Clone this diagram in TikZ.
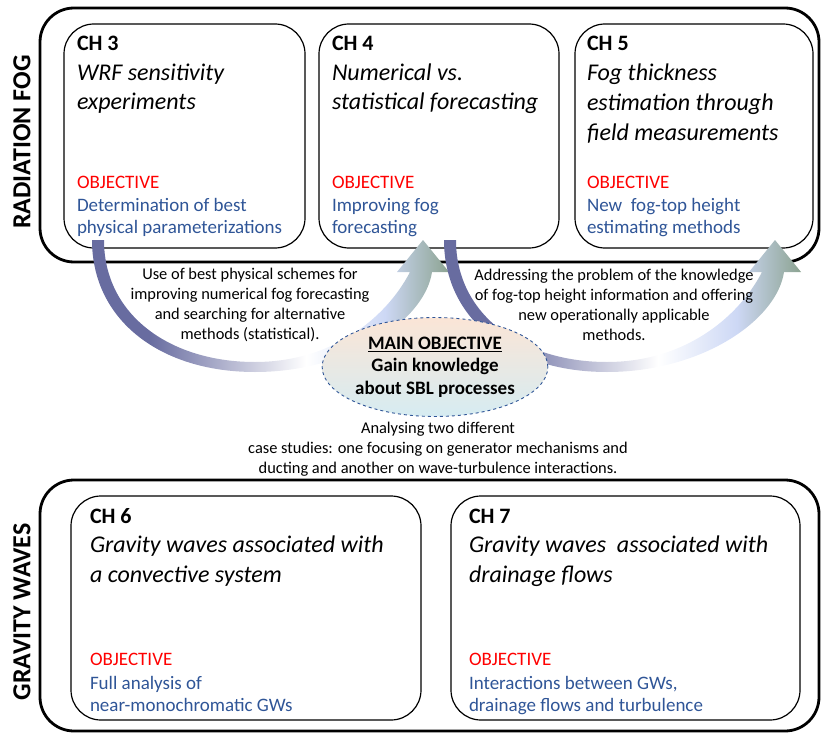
\documentclass[tikz,border=0pt]{standalone}
\usepackage{fontspec}
\setmainfont{Carlito}
\usetikzlibrary{shapes.geometric}

\definecolor{objblue}{RGB}{47,85,151}
\definecolor{arrowdark}{RGB}{104,108,160}
\definecolor{arrowlight}{RGB}{205,216,245}
\definecolor{arrowgreen}{RGB}{140,163,145}
\definecolor{peach}{RGB}{251,229,214}
\definecolor{paleblue}{RGB}{214,236,242}

% broad curved arrows: dark on the left, white at the bottom, green at the head
\pgfdeclarehorizontalshading{arrowshade}{100bp}{color(0bp)=(arrowdark); color(33bp)=(arrowdark);
  color(55bp)=(white); color(66bp)=(arrowlight); color(75bp)=(arrowgreen); color(100bp)=(arrowgreen)}

\begin{document}
\begin{tikzpicture}[
        x=1pt, y=-1pt,
        every node/.style={inner sep=0pt, outer sep=0pt},
        group/.style={draw, line width=2.8pt, rounded corners=34pt, anchor=north west},
        chbox/.style={draw, line width=1.2pt, rounded corners=30pt, anchor=north west, minimum height=224pt},
        chnum/.style={anchor=base west, font=\bfseries\fontsize{22}{26}\selectfont},
        chtitle/.style={anchor=base west, align=left, font=\itshape\fontsize{24}{29.5}\selectfont},
        objlabel/.style={anchor=base west, text=red, font=\fontsize{19}{23}\selectfont},
        objtext/.style={anchor=base west, align=left, text=objblue, font=\fontsize{19}{22}\selectfont},
        sidelabel/.style={rotate=90, font=\bfseries\fontsize{26}{30}\selectfont},
        link/.style={align=center, font=\fontsize{16.4}{19.8}\selectfont},
        mainobj/.style={ellipse, draw=objblue, dashed, line width=0.9pt, top color=peach, bottom color=paleblue,
            minimum width=192pt, minimum height=99pt, align=center, font=\bfseries\fontsize{19}{22.5}\selectfont}
    ]
        \useasboundingbox (0,0) rectangle (821,733);

        % Groups
        \node[group, minimum width=779pt, minimum height=254pt] (fogbox) at (40,8) {};
        \node[group, minimum width=779pt, minimum height=251pt] (gwbox) at (40,480) {};
        \node[sidelabel] (fog) at (22,142) {RADIATION FOG};
        \node[sidelabel] (gw) at (22,612) {GRAVITY WAVES};

        % Chapters (radiation fog) - multi-line texts sit on their last baseline
        \node[chbox, minimum width=241pt] (ch3) at (64,24) {};
        \node[chnum] (ch3num) at ([shift={(13,27)}]ch3.north west) {CH 3};
        \node[chtitle] (ch3title) at ([shift={(13,86)}]ch3.north west) {WRF sensitivity\\experiments};
        \node[objlabel] (ch3obj) at ([shift={(13,164)}]ch3.north west) {OBJECTIVE};
        \node[objtext] (ch3aim) at ([shift={(13,209)}]ch3.north west) {Determination of best\\physical parameterizations};

        \node[chbox, minimum width=240pt] (ch4) at (319,24) {};
        \node[chnum] (ch4num) at ([shift={(13,27)}]ch4.north west) {CH 4};
        \node[chtitle] (ch4title) at ([shift={(13,86)}]ch4.north west) {Numerical vs.\\statistical forecasting};
        \node[objlabel] (ch4obj) at ([shift={(13,164)}]ch4.north west) {OBJECTIVE};
        \node[objtext] (ch4aim) at ([shift={(13,209)}]ch4.north west) {Improving fog\\forecasting};

        \node[chbox, minimum width=238pt] (ch5) at (575,24) {};
        \node[chnum] (ch5num) at ([shift={(12,27)}]ch5.north west) {CH 5};
        \node[chtitle] (ch5title) at ([shift={(12,116)}]ch5.north west) {Fog thickness\\estimation through\\field measurements};
        \node[objlabel] (ch5obj) at ([shift={(12,164)}]ch5.north west) {OBJECTIVE};
        \node[objtext] (ch5aim) at ([shift={(12,209)}]ch5.north west) {New\ \ fog-top height\\estimating methods};

        % Chapters (gravity waves)
        \node[chbox, minimum width=350pt] (ch6) at (71,496) {};
        \node[chnum] (ch6num) at ([shift={(19,27)}]ch6.north west) {CH 6};
        \node[chtitle] (ch6title) at ([shift={(19,86)}]ch6.north west) {Gravity waves associated with\\a convective system};
        \node[objlabel] (ch6obj) at ([shift={(19,169)}]ch6.north west) {OBJECTIVE};
        \node[objtext] (ch6aim) at ([shift={(19,215)}]ch6.north west) {Full analysis of\\near-monochromatic GWs};

        \node[chbox, minimum width=349pt] (ch7) at (451,496) {};
        \node[chnum] (ch7num) at ([shift={(18,27)}]ch7.north west) {CH 7};
        \node[chtitle] (ch7title) at ([shift={(18,86)}]ch7.north west) {Gravity waves\ \ associated with\\drainage flows};
        \node[objlabel] (ch7obj) at ([shift={(18,169)}]ch7.north west) {OBJECTIVE};
        \node[objtext] (ch7aim) at ([shift={(18,215)}]ch7.north west) {Interactions between GWs,\\drainage flows and turbulence};

        % Curved arrows CH3 -> CH4 and CH4 -> CH5
        \foreach \dx in {0,352} {
            \shade[shading=arrowshade, shift={(\dx,0)}] (92,240) .. controls (92,320) and (160,372) .. (255,372)
                .. controls (350,372) and (425,320) .. (432,272) -- (449,272) -- (423,240) -- (397,272) -- (410,272)
                .. controls (385,320) and (330,362) .. (255,362) .. controls (170,362) and (104,315) .. (104,240) -- cycle;
        }

        % Links
        \node[link] (link1) at (250,305) {Use of best physical schemes for\\improving numerical fog forecasting\\and searching for alternative\\methods (statistical).};
        \node[link] (link2) at (614,305) {Addressing the problem of the knowledge\\of fog-top height information and offering\\new operationally applicable\\methods.};
        \node[link] (link3) at (438,449) {Analysing two different\\case studies: one focusing on generator mechanisms and\\ducting and another on wave-turbulence interactions.};

        % Main objective
        \node[mainobj] (main) at (435,367) {\underline{MAIN OBJECTIVE}\\Gain knowledge\\about SBL processes};

    \end{tikzpicture}
\end{document}
